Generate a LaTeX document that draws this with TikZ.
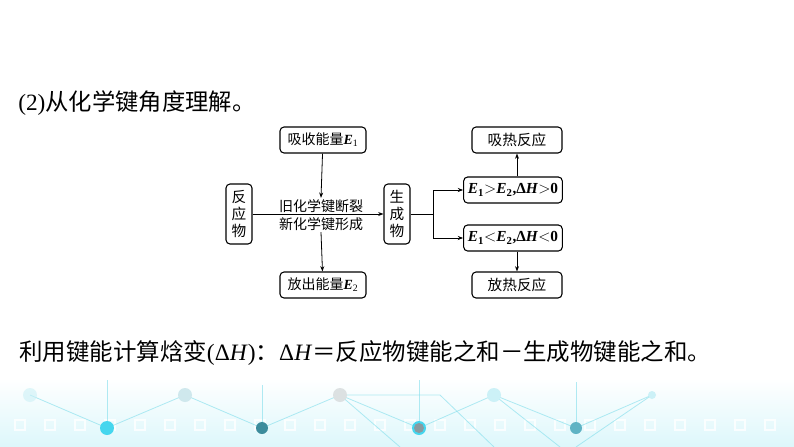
\documentclass[tikz,border=0pt]{standalone}
\usepackage{fontspec}
\setmainfont{Liberation Serif}
\newfontfamily\cjk{Noto Sans CJK SC}
\usetikzlibrary{arrows.meta, positioning}
\definecolor{linkcyan}{HTML}{7FDDEB}
\definecolor{dotcyan}{HTML}{45D6EE}
\definecolor{dotteal}{HTML}{3C8C9C}
\definecolor{dotgray}{HTML}{8A9AA0}
\definecolor{dotblue}{HTML}{5FB3C4}
\definecolor{bandcyan}{HTML}{DDF7FB}
\newcommand{\Eo}{\textbf{\textit{E}}\textsubscript{1}}
\newcommand{\Et}{\textbf{\textit{E}}\textsubscript{2}}
\newcommand{\dH}{Δ\textit{H}}
\newcommand{\bdH}{\textbf{Δ\textit{H}}}

\begin{document}
\begin{tikzpicture}[
  x=0.75pt, y=-0.75pt,
  box/.style={rectangle, rounded corners=3pt, draw, line width=0.8pt,
              minimum height=19.5pt, inner sep=1pt, text centered,
              font=\fontsize{10.5}{12}\selectfont},
  vbox/.style={box, minimum width=19.5pt, minimum height=45pt, align=center,
               font=\fontsize{11}{13}\selectfont\cjk},
  cond/.style={box, minimum width=74pt, font=\fontsize{11.5}{13}\selectfont\bfseries},
  arr/.style={-{Stealth[length=4pt,width=3pt]}, line width=0.6pt},
  lnk/.style={linkcyan, line width=0.6pt, opacity=0.6},
]
  \useasboundingbox (0,0) rectangle (794,447);

  % background band
  \fill[top color=white, bottom color=bandcyan] (0,378) rectangle (794,447);
  \foreach \x in {15,45,...,780}
    \draw[white, line width=0.8pt, opacity=0.8] (\x,420) rectangle ++(10,10);
  \draw[lnk] (30,395) -- (107,428) -- (185,395) -- (262,428) -- (340,395)
             -- (419,428) -- (494,395) -- (576,428) -- (652,395);
  \draw[lnk] (107,428) -- (107,380) (262,428) -- (262,385)
             (419,428) -- (419,380) (576,428) -- (576,382);
  \draw[lnk] (340,395) -- (400,447) (340,395) -- (440,395) -- (494,447)
             (494,395) -- (560,447) (652,395) -- (576,447);
  \fill[linkcyan!40, opacity=0.6] (30,395) circle (7);
  \fill[dotblue!30]  (185,395) circle (7);
  \fill[dotgray!30]  (340,395) circle (7);
  \fill[linkcyan!40] (494,395) circle (7);
  \fill[linkcyan!40] (652,395) circle (4);
  \fill[dotcyan]  (107,428) circle (7);
  \fill[dotteal]  (262,428) circle (6);
  \fill[dotcyan]  (419,428) circle (7);
  \fill[dotgray]  (419,428) circle (5);
  \fill[dotblue]  (576,428) circle (6);

  % texts
  \node[anchor=west, inner sep=0, font=\fontsize{17.5}{19}\selectfont] (title)
    at (18,103) {(2){\cjk 从化学键角度理解。}};
  \node[anchor=west, inner sep=0, font=\fontsize{17.6}{19}\selectfont] (sum)
    at (19,353) {{\cjk 利用键能计算焓变}(\dH){\cjk ：}\dH{\cjk ＝反应物键能之和－生成物键能之和。}};

  % diagram
  \node[vbox] (react) at (239,214) {反\\应\\物};
  \node[vbox] (prod)  at (397,214) {生\\成\\物};
  \node[box, minimum width=64.5pt] (absorb)  at (323,140) {{\cjk 吸收能量}\Eo};
  \node[box, minimum width=64.5pt] (release) at (323,285) {{\cjk 放出能量}\Et};
  \node[align=center, inner sep=1pt, font=\fontsize{10.5}{13.5}\selectfont\cjk] (bond)
    at (321,215) {旧化学键断裂\\新化学键形成};
  \node[cond] (gt) at (513,190) {\Eo$>$\Et,\bdH$>$0};
  \node[cond] (lt) at (513,238) {\Eo$<$\Et,\bdH$<$0};
  \node[box, minimum width=67.5pt, font=\fontsize{11}{13}\selectfont\cjk] (endo) at (517,140) {吸热反应};
  \node[box, minimum width=67.5pt, font=\fontsize{11}{13}\selectfont\cjk] (exo)  at (517,285) {放热反应};

  \draw[arr] (react) -- (prod);
  \draw[arr] (absorb) -- (bond.north);
  \draw[arr] (bond.south) -- (release);
  \draw[line width=0.6pt] (prod.east) -- (433,214) coordinate (fork);
  \draw[arr] (fork) |- (gt.west);
  \draw[arr] (fork) |- (lt.west);
  \draw[arr] (gt.north -| endo) -- (endo);
  \draw[arr] (lt.south -| exo) -- (exo);
\end{tikzpicture}
\end{document}
